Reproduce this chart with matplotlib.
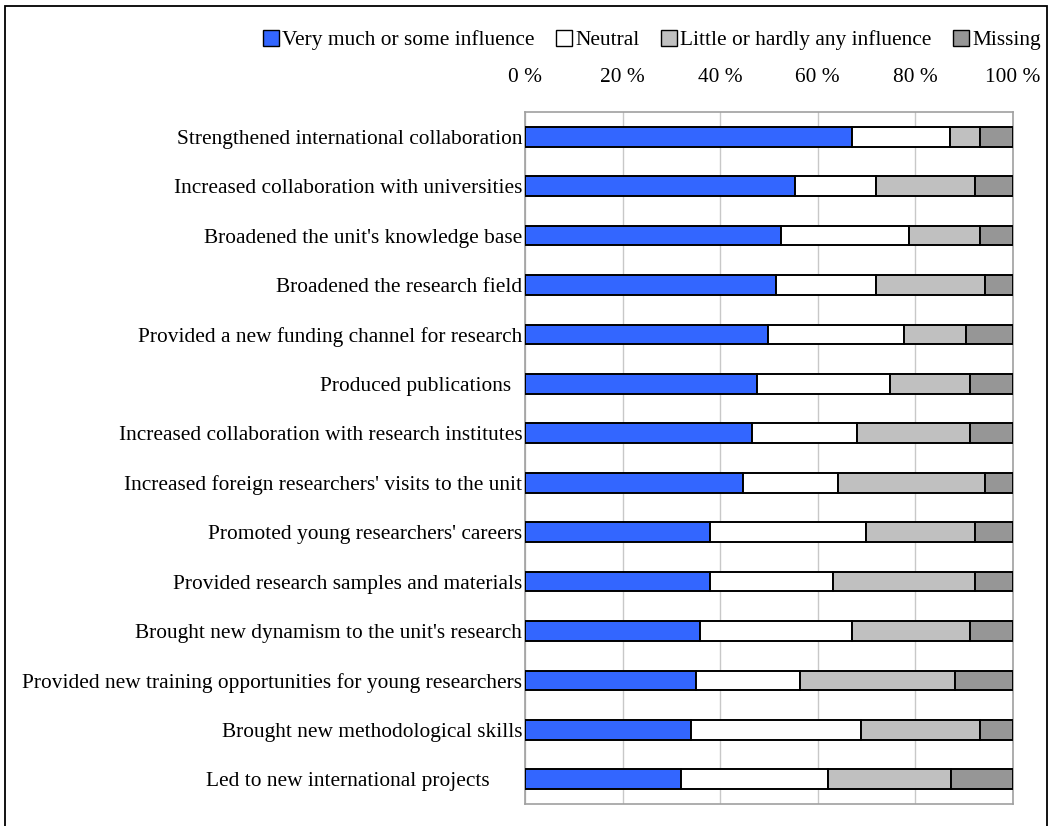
import matplotlib.pyplot as plt
from matplotlib.patches import Rectangle, Patch
import numpy as np

plt.rcParams['font.family'] = ['Liberation Serif', 'DejaVu Serif']

# kategorier, ovanifrån och ned
categories = [
    "Strengthened international collaboration",
    "Increased collaboration with universities",
    "Broadened the unit's knowledge base",
    "Broadened the research field",
    "Provided a new funding channel for research",
    "Produced publications  ",
    "Increased collaboration with research institutes",
    "Increased foreign researchers' visits to the unit",
    "Promoted young researchers' careers",
    "Provided research samples and materials",
    "Brought new dynamism to the unit's research",
    "Provided new training opportunities for young researchers",
    "Brought new methodological skills",
    "Led to new international projects      ",
]

influence = [67.0, 55.4, 52.5, 51.4, 49.7, 47.6, 46.5, 44.7, 38.0, 38.0, 35.8, 35.1, 34.0, 31.9]
neutral = [20.1, 16.6, 26.2, 20.6, 28.0, 27.2, 21.6, 19.4, 31.9, 25.1, 31.3, 21.3, 34.8, 30.1]
little = [6.2, 20.2, 14.6, 22.3, 12.7, 16.3, 23.0, 30.2, 22.3, 29.1, 24.0, 31.8, 24.5, 25.2]
missing = [6.7, 7.8, 6.7, 5.7, 9.6, 8.9, 8.9, 5.7, 7.8, 7.8, 8.9, 11.8, 6.7, 12.8]

series = [
    ("Very much or some influence", influence, "#3366FF"),
    ("Neutral", neutral, "#FFFFFF"),
    ("Little or hardly any influence", little, "#C0C0C0"),
    ("Missing", missing, "#969696"),
]

fs = 15.4

fig = plt.figure(figsize=(10.55, 8.26), dpi=100)
ax = fig.add_axes([525 / 1055, 1 - 804 / 826, 488 / 1055, 692 / 826])

y = np.arange(len(categories))
left = np.zeros(len(categories))
for name, vals, col in series:
    ax.barh(y, vals, left=left, height=0.4, color=col, edgecolor='black',
            linewidth=1.4, label=name, zorder=3)
    left += np.array(vals)

ax.set_xlim(0, 100)
ax.set_ylim(len(categories) - 0.5, -0.5)
ax.set_yticks(y)
ax.set_yticklabels(categories, fontsize=fs)
ax.set_xticks(np.arange(0, 101, 20))
ax.set_xticklabels([f"{v} %" for v in range(0, 101, 20)], fontsize=fs)
ax.xaxis.tick_top()
ax.tick_params(axis='x', length=0, pad=18)
ax.tick_params(axis='y', length=0, pad=2)
ax.grid(axis='x', color='#C8C8C8', linewidth=1, zorder=0)
for s in ax.spines.values():
    s.set_color('#A0A0A0')
    s.set_linewidth(1.2)

handles = [Patch(facecolor=c, edgecolor='black', linewidth=1, label=n) for n, v, c in series]
fig.legend(handles=handles, loc='center right', bbox_to_anchor=(1041 / 1055, 1 - 40 / 826),
           ncol=4, frameon=False, fontsize=fs, handlelength=0.75, handleheight=0.75,
           handletextpad=0.15, columnspacing=1.0, borderaxespad=0, borderpad=0)

# ramen runt hela bilden
fig.patches.append(Rectangle((5 / 1055, -0.01), 1042 / 1055, 1 - 6 / 826 + 0.01,
                             transform=fig.transFigure, fill=False,
                             edgecolor='black', linewidth=1.3))

fig.savefig('out.png', dpi=100)
